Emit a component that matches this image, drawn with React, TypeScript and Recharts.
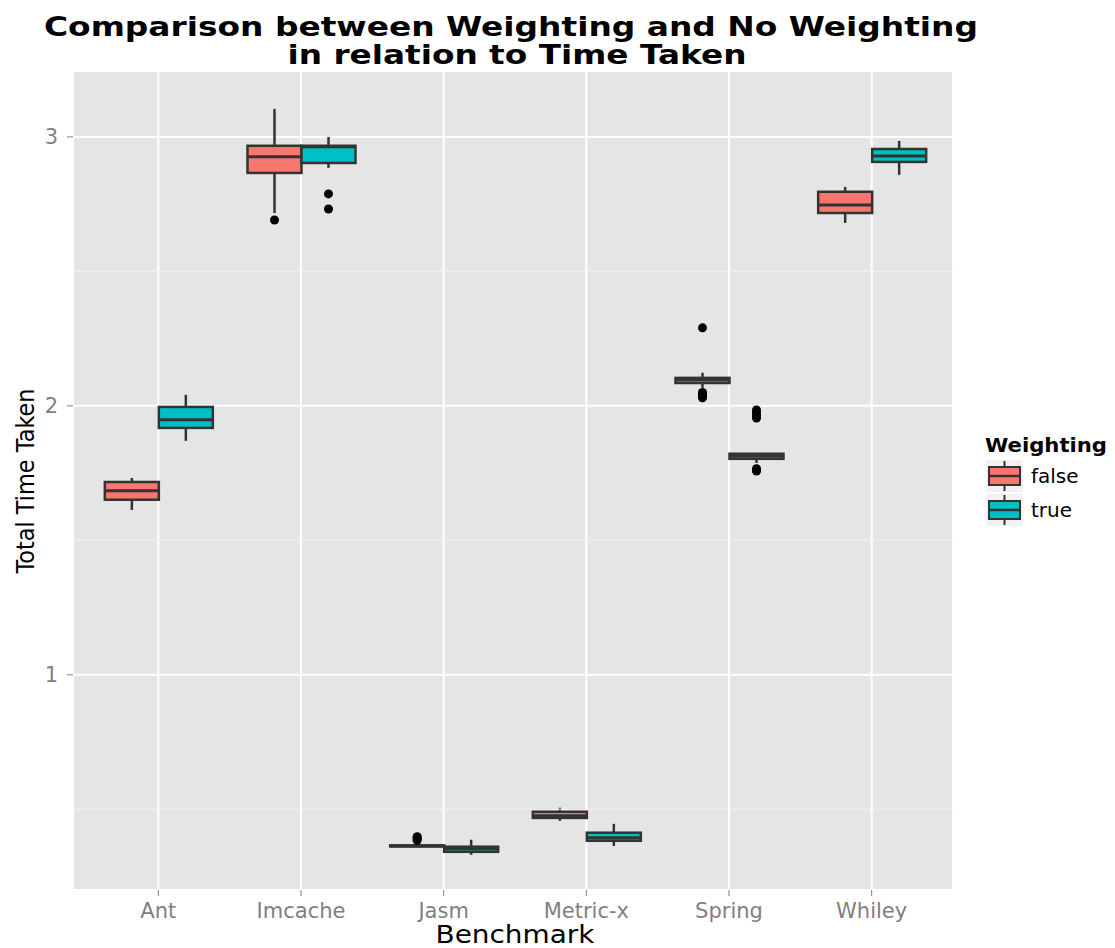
import React from "react";
import { ComposedChart, Bar, XAxis, YAxis, CartesianGrid, ReferenceLine } from "recharts";

const benchmarks = ["Ant", "Imcache", "Jasm", "Metric-x", "Spring", "Whiley"];

// Weighting = false
const falseLow = [1.613, 2.717, 0.362, 0.457, 2.067, 2.68];
const falseQ1 = [1.651, 2.866, 0.362, 0.468, 2.085, 2.717];
const falseMedian = [1.684, 2.926, 0.364, 0.476, 2.097, 2.747];
const falseQ3 = [1.717, 2.967, 0.366, 0.491, 2.104, 2.796];
const falseHigh = [1.732, 3.104, 0.366, 0.506, 2.123, 2.814];
const falseOutliers = [[], [2.691], [0.385, 0.39, 0.395, 0.398], [], [2.29, 2.03, 2.035, 2.04, 2.045, 2.05], []];

// Weighting = true
const trueLow = [1.87, 2.885, 0.331, 0.364, 1.788, 2.859];
const trueQ1 = [1.918, 2.903, 0.342, 0.383, 1.803, 2.907];
const trueMedian = [1.948, 2.963, 0.353, 0.394, 1.814, 2.929];
const trueQ3 = [1.996, 2.967, 0.361, 0.413, 1.822, 2.955];
const trueHigh = [2.041, 3.0, 0.387, 0.446, 1.822, 2.985];
const trueOutliers = [[], [2.788, 2.732], [], [], [1.955, 1.965, 1.975, 1.985, 1.758, 1.762, 1.766], []];

const yTicks = [1, 2, 3];
const minorTicks = [0.5, 1.5, 2.5];

const FALSE_COLOR = "#F8766D";
const TRUE_COLOR = "#00BFC4";
const LINE = "#333333";
const FONT = "'DejaVu Sans', sans-serif";

const stats = (lo, q1, med, q3, hi, out) => {
  const all = [lo, hi, ...out];
  return { low: lo, q1, median: med, q3, high: hi, outliers: out, range: [Math.min(...all), Math.max(...all)] };
};

const data = benchmarks.map((name, i) => {
  const f = stats(falseLow[i], falseQ1[i], falseMedian[i], falseQ3[i], falseHigh[i], falseOutliers[i]);
  const t = stats(trueLow[i], trueQ1[i], trueMedian[i], trueQ3[i], trueHigh[i], trueOutliers[i]);
  return { name, falseStats: f, trueStats: t, falseRange: f.range, trueRange: t.range };
});

// box + whiskers + outliers, scaled from the bar's own pixel range
const makeBox = (key: string, fill: string) => (props: any) => {
  const { x, y, width, height, payload } = props;
  const s = payload[key];
  const [min, max] = s.range;
  const ppu = height / (max - min);
  const py = (v: number) => y + (max - v) * ppu;
  const cx = x + width / 2;
  return (
    <g>
      <line x1={cx} x2={cx} y1={py(s.high)} y2={py(s.q3)} stroke={LINE} strokeWidth={2.5} />
      <line x1={cx} x2={cx} y1={py(s.q1)} y2={py(s.low)} stroke={LINE} strokeWidth={2.5} />
      <rect x={x} y={py(s.q3)} width={width} height={py(s.q1) - py(s.q3)} fill={fill} stroke={LINE} strokeWidth={2.5} />
      <line x1={x} x2={x + width} y1={py(s.median)} y2={py(s.median)} stroke={LINE} strokeWidth={3} />
      {s.outliers.map((o: number, j: number) => (
        <circle key={j} cx={cx} cy={py(o)} r={4.5} fill="#000" />
      ))}
    </g>
  );
};

const LegendKey = ({ y, fill }) => (
  <g>
    <rect x={986} y={y} width={37} height={32} fill="#F2F2F2" />
    <line x1={1004.5} x2={1004.5} y1={y + 1} y2={y + 31} stroke={LINE} strokeWidth={2} />
    <rect x={989} y={y + 7} width={31} height={18} fill={fill} stroke={LINE} strokeWidth={2} />
    <line x1={989} x2={1020} y1={y + 16} y2={y + 16} stroke={LINE} strokeWidth={2.5} />
  </g>
);

export default function App() {
  return (
    <div style={{ position: "absolute", left: 0, top: 0, width: 1115, height: 948, background: "#fff" }}>
      <ComposedChart
        width={1115}
        height={948}
        data={data}
        margin={{ top: 71, right: 162, bottom: 28, left: 33 }}
        barCategoryGap="12.5%"
        barGap={0}
      >
        <CartesianGrid fill="#E5E5E5" stroke="#FFFFFF" strokeWidth={2} />
        {minorTicks.map((v) => (
          <ReferenceLine key={v} y={v} stroke="#F2F2F2" strokeWidth={1} />
        ))}
        <XAxis
          dataKey="name"
          height={30}
          padding={{ left: 14, right: 10 }}
          axisLine={false}
          tickSize={6}
          tickMargin={7}
          tickLine={{ stroke: "#7F7F7F" }}
          tick={{ fill: "#7F7F7F", fontSize: 21, fontFamily: FONT }}
        />
        <YAxis
          type="number"
          width={40}
          domain={[0.2, 3.245]}
          ticks={yTicks}
          allowDataOverflow
          axisLine={false}
          tickSize={6}
          tickMargin={9}
          tickLine={{ stroke: "#7F7F7F" }}
          tick={{ fill: "#7F7F7F", fontSize: 21, fontFamily: FONT }}
        />
        <Bar dataKey="falseRange" name="false" fill={FALSE_COLOR} isAnimationActive={false} shape={makeBox("falseStats", FALSE_COLOR)} />
        <Bar dataKey="trueRange" name="true" fill={TRUE_COLOR} isAnimationActive={false} shape={makeBox("trueStats", TRUE_COLOR)} />
      </ComposedChart>
      <svg width={1115} height={948} style={{ position: "absolute", left: 0, top: 0, pointerEvents: "none" }} fontFamily={FONT}>
        <text x={511} y={36} textAnchor="middle" fontSize={26} fontWeight="bold" textLength={934} lengthAdjust="spacingAndGlyphs">
          Comparison between Weighting and No Weighting
        </text>
        <text x={517} y={64} textAnchor="middle" fontSize={26} fontWeight="bold" textLength={459} lengthAdjust="spacingAndGlyphs">
          in relation to Time Taken
        </text>
        <text x={515} y={943} textAnchor="middle" fontSize={24} textLength={159} lengthAdjust="spacingAndGlyphs">
          Benchmark
        </text>
        <text x={0} y={0} transform="translate(34 481) rotate(-90)" textAnchor="middle" fontSize={24} textLength={185} lengthAdjust="spacingAndGlyphs">
          Total Time Taken
        </text>
        <text x={985} y={452} fontSize={19} fontWeight="bold" textLength={122} lengthAdjust="spacingAndGlyphs">
          Weighting
        </text>
        <LegendKey y={460} fill={FALSE_COLOR} />
        <LegendKey y={494} fill={TRUE_COLOR} />
        <text x={1031} y={483} fontSize={20}>false</text>
        <text x={1031} y={517} fontSize={20}>true</text>
      </svg>
    </div>
  );
}
